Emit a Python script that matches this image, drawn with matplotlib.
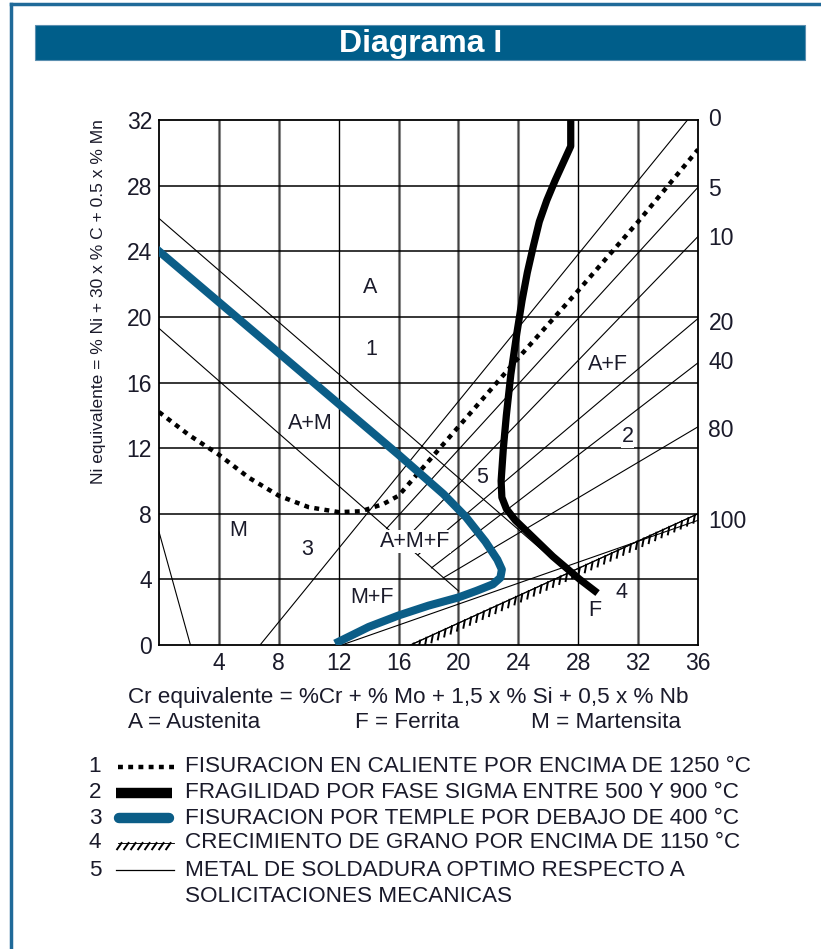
import numpy as np
import matplotlib
matplotlib.use("Agg")
import matplotlib.pyplot as plt
import matplotlib.patheffects as pe
from matplotlib.patches import Rectangle

plt.rcParams['font.family'] = ['Liberation Sans', 'DejaVu Sans']

## data (Cr equivalent on x, Ni equivalent on y)
cr_ticks = [4, 8, 12, 16, 20, 24, 28, 32, 36]
ni_ticks = [0, 4, 8, 12, 16, 20, 24, 28, 32]

# ferrite percentage labels on the right edge
ferrite_labels = ['0', '5', '10', '20', '40', '80', '100']
ferrite_label_y = [32.0, 27.75, 24.8, 19.6, 17.2, 13.1, 7.5]

# 1: hot cracking above 1250 C (dotted)
hot_x = [0, 2, 4, 6, 8, 10, 12, 13.5, 15, 16, 20, 24, 28, 32, 36]
hot_y = [14.2, 12.8, 11.6, 10.2, 9.1, 8.4, 8.1, 8.15, 8.6, 9.1, 13.3, 17.5, 21.6, 25.8, 30.2]

# 2: sigma phase embrittlement (thick black)
sigma_x = [27.5, 27.5, 27.0, 26.45, 25.9, 25.4, 25.0, 24.6, 24.25, 23.9, 23.5, 23.2,
           23.0, 22.85, 22.9, 23.2, 23.8, 24.6, 26.3, 28.1, 29.1]
sigma_y = [32.0, 30.4, 29.4, 28.3, 27.1, 25.8, 24.3, 22.7, 21.0, 19.0, 16.5, 14.0,
           12.0, 10.0, 9.0, 8.3, 7.6, 6.9, 5.4, 4.0, 3.3]

# 3: quench cracking below 400 C (thick blue)
quench_x = [0, 16, 19, 20.5, 21.8, 22.6, 22.9, 22.8, 22.3, 21.2, 20, 18, 16, 14, 12]
quench_y = [24, 11.6, 9.2, 7.8, 6.3, 5.2, 4.6, 4.1, 3.7, 3.3, 2.9, 2.4, 1.8, 1.1, 0.2]

# 4: grain growth above 1150 C (hatched)
grain_x = [16.8, 36]
grain_y = [0.0, 8.0]

# phase boundaries (thin lines): x0, y0, x1, y1
boundary_x0 = [0, 0, 0, 6.75, 12.2]
boundary_y0 = [26.0, 19.3, 6.9, 0.0, 0.0]
boundary_x1 = [28.1, 20.0, 2.1, 35.3, 36.0]
boundary_y1 = [3.8, 3.3, 0.0, 32.0, 7.6]

# iso-ferrite lines 5, 10, 20, 40, 80 %
iso_x0 = [15.2, 16.3, 17.3, 18.2, 19.0]
iso_y0 = [7.1, 6.3, 5.5, 4.7, 4.1]
iso_x1 = [36, 36, 36, 36, 36]
iso_y1 = [27.9, 24.9, 19.9, 17.2, 13.3]

# region labels
region_text = ['A', '1', 'A+M', 'M', '3', 'A+M+F', 'M+F', '5', 'A+F', '2', '4', 'F']
region_x = [14.1, 14.2, 10.1, 5.3, 9.9, 17.1, 14.2, 21.6, 30.0, 31.3, 30.9, 29.1]
region_y = [21.8, 18.0, 13.5, 6.95, 5.8, 6.3, 2.9, 10.2, 17.1, 12.7, 3.2, 2.1]

legend_num = ['1', '2', '3', '4', '5']
legend_text = ['FISURACION EN CALIENTE POR ENCIMA DE 1250 \u00b0C',
               'FRAGILIDAD POR FASE SIGMA ENTRE 500 Y 900 \u00b0C',
               'FISURACION POR TEMPLE POR DEBAJO DE 400 \u00b0C',
               'CRECIMIENTO DE GRANO POR ENCIMA DE 1150 \u00b0C',
               'METAL DE SOLDADURA OPTIMO RESPECTO A\nSOLICITACIONES MECANICAS']

blue = '#0b5d87'
frame_blue = '#1f6a99'
txt = '#1a1a2a'

fig = plt.figure(figsize=(8.21, 9.49), dpi=100)

## page overlay in pixel coordinates (frame, title bar, legend)
bg = fig.add_axes([0, 0, 1, 1])
bg.set_xlim(0, 821)
bg.set_ylim(949, 0)
bg.axis('off')
bg.plot([11, 11], [4, 949], color=frame_blue, lw=2.5)
bg.plot([11, 821], [4, 4], color=frame_blue, lw=2.5)
bg.add_patch(Rectangle((35, 25), 770, 35, facecolor='#005e8a', edgecolor='#5b8fb0', lw=0.8))
bg.text(421, 44, 'Diagrama I', color='white', fontsize=23, fontweight='bold',
        ha='center', va='center')

## main chart
ax = fig.add_axes([159/821, 1-645/949, 539/821, 525/949])
ax.set_xlim(0, 36)
ax.set_ylim(0, 32)

# grid
for x in cr_ticks[:-1]:
    if x in (12, 28):
        ax.axvline(x, color='black', lw=1.0, zorder=1)
    else:
        ax.axvline(x, color='#8a8a8a', lw=2.2, zorder=1)
        ax.axvline(x, color='#333333', lw=0.6, zorder=1)
for y in ni_ticks[1:-1]:
    ax.axhline(y, color='black', lw=1.1, zorder=1)

# thin boundaries and iso-ferrite lines
for x0, y0, x1, y1 in zip(boundary_x0, boundary_y0, boundary_x1, boundary_y1):
    ax.plot([x0, x1], [y0, y1], color='black', lw=0.8, zorder=2)
for x0, y0, x1, y1 in zip(iso_x0, iso_y0, iso_x1, iso_y1):
    ax.plot([x0, x1], [y0, y1], color='black', lw=0.8, zorder=2)

# curves
ticked = [pe.withTickedStroke(angle=-125, spacing=5, length=1.1, linewidth=1.4), pe.Normal()]
ax.plot(hot_x, hot_y, color='black', lw=3.2, dashes=(1.1, 1.2), zorder=3)
ax.plot(grain_x, grain_y, color='black', lw=0.8, zorder=3, path_effects=ticked)
ax.plot(sigma_x, sigma_y, color='black', lw=5.2, solid_joinstyle='round', zorder=4)
ax.plot(quench_x, quench_y, color=blue, lw=5.8, solid_joinstyle='round', zorder=5)

for s, x, y in zip(region_text, region_x, region_y):
    ax.text(x, y, s, fontsize=15.5, color=txt, ha='center', va='center', zorder=6,
            bbox=dict(facecolor='white', edgecolor='none', pad=0.5))

for s, y in zip(ferrite_labels, ferrite_label_y):
    ax.text(36.7, y, s, fontsize=16.5, color=txt, ha='left', va='center', clip_on=False)

ax.set_xticks(cr_ticks)
ax.set_yticks(ni_ticks)
ax.tick_params(length=0, labelsize=16.5, colors=txt, pad=5)
for sp in ax.spines.values():
    sp.set_linewidth(1.3)
ax.set_ylabel('Ni equivalente = % Ni + 30 x % C + 0.5 x % Mn', fontsize=12.5, color=txt)
ax.yaxis.set_label_coords(-0.098, 0.655)

## text below the chart
fs = 16.2
bg.text(128, 697, 'Cr equivalente = %Cr + % Mo + 1,5 x % Si + 0,5 x % Nb',
        fontsize=fs, color=txt, ha='left', va='center')
bg.text(128, 722, 'A = Austenita', fontsize=fs, color=txt, ha='left', va='center')
bg.text(355, 722, 'F = Ferrita', fontsize=fs, color=txt, ha='left', va='center')
bg.text(531, 722, 'M = Martensita', fontsize=fs, color=txt, ha='left', va='center')

## legend
rows = [767, 793, 818, 843, 870]
for num, label, y in zip(legend_num, legend_text, rows):
    bg.text(95, y, num, fontsize=fs, color=txt, ha='center', va='center')
    for k, part in enumerate(label.split('\n')):
        bg.text(185, y + 27 * k, part, fontsize=fs, color=txt, ha='left', va='center')

bg.plot([118, 174], [rows[0], rows[0]], color='black', lw=3.2, dashes=(1.1, 1.2))
bg.plot([116, 172], [rows[1], rows[1]], color='black', lw=7.5, solid_capstyle='butt')
bg.plot([119, 169], [rows[2], rows[2]], color=blue, lw=7.5, solid_capstyle='round')
bg.plot([118, 174], [rows[3], rows[3]], color='black', lw=0.5, path_effects=ticked)
bg.plot([116, 174], [rows[4], rows[4]], color='black', lw=0.9)

fig.savefig('out.png', dpi=100)
